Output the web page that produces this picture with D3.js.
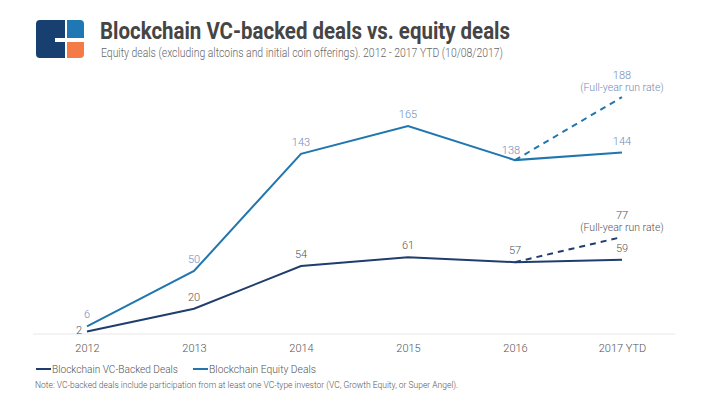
<!DOCTYPE html>
<html>
<head>
<meta charset="utf-8">
<script src="https://cdn.jsdelivr.net/npm/d3@7"></script>
<style>
  body { margin: 0; background: #fff; }
  svg { display: block; font-family: Roboto, "Noto Sans", sans-serif; }
</style>
</head>
<body>
<div id="chart"></div>
<script>
const years = ['2012', '2013', '2014', '2015', '2016', '2017 YTD'];
const vcDeals = [2, 20, 54, 61, 57, 59];
const equityDeals = [6, 50, 143, 165, 138, 144];
const vcRunRate = 77;
const equityRunRate = 188;
const seriesNames = ['Blockchain VC-Backed Deals', 'Blockchain Equity Deals'];

const W = 717, H = 397;
const vcColor = '#1f3d6d';
const eqColor = '#2176ae';

const svg = d3.select('#chart').append('svg')
  .attr('width', W)
  .attr('height', H);

// logo
const logo = svg.append('g').attr('transform', 'translate(36,20)');
logo.append('path')
  .attr('d', 'M4,0 H29 V18 H19 V22 H29 V38 H4 Q0,38 0,34 V4 Q0,0 4,0 Z')
  .attr('fill', '#173f6f');
logo.append('path')
  .attr('d', 'M31,0 H44 Q48,0 48,4 V18 H31 Z')
  .attr('fill', '#1f78b4');
logo.append('path')
  .attr('d', 'M31,22 H48 V34 Q48,38 44,38 H31 Z')
  .attr('fill', '#f47b45');

svg.append('text')
  .attr('x', 100).attr('y', 39)
  .attr('font-size', 24)
  .attr('font-weight', 700)
  .attr('fill', '#454545')
  .attr('textLength', 410)
  .attr('lengthAdjust', 'spacingAndGlyphs')
  .text('Blockchain VC-backed deals vs. equity deals');

svg.append('text')
  .attr('x', 101).attr('y', 57)
  .attr('font-size', 12)
  .attr('font-weight', 300)
  .attr('fill', '#666')
  .attr('textLength', 402)
  .attr('lengthAdjust', 'spacingAndGlyphs')
  .text('Equity deals (excluding altcoins and initial coin offerings). 2012 - 2017 YTD (10/08/2017)');

const x = d3.scalePoint()
  .domain(years)
  .range([87, 622]);
const y = d3.scaleLinear()
  .domain([0, 200])
  .range([334, 82]);

// baseline axis
svg.append('line')
  .attr('x1', 33).attr('x2', 675)
  .attr('y1', y(0)).attr('y2', y(0))
  .attr('stroke', '#e8e8e8');

const xAxis = svg.append('g')
  .attr('transform', `translate(0,${y(0)})`)
  .call(d3.axisBottom(x).tickSize(0).tickPadding(10));
xAxis.select('.domain').remove();
xAxis.selectAll('text')
  .attr('font-family', 'Roboto, sans-serif')
  .attr('font-size', 11)
  .attr('font-weight', 300)
  .attr('fill', '#555');

const line = d3.line()
  .x((d, i) => x(years[i]))
  .y(d => y(d));

svg.append('path')
  .datum(equityDeals)
  .attr('d', line)
  .attr('fill', 'none')
  .attr('stroke', eqColor)
  .attr('stroke-width', 2);

svg.append('path')
  .datum(vcDeals)
  .attr('d', line)
  .attr('fill', 'none')
  .attr('stroke', vcColor)
  .attr('stroke-width', 2);

// run rate dashes from 2016
const last = years.length - 1;
svg.append('line')
  .attr('x1', x(years[last - 1])).attr('y1', y(equityDeals[last - 1]))
  .attr('x2', x(years[last])).attr('y2', y(equityRunRate))
  .attr('stroke', eqColor).attr('stroke-width', 2)
  .attr('stroke-dasharray', '6,5');
svg.append('line')
  .attr('x1', x(years[last - 1])).attr('y1', y(vcDeals[last - 1]))
  .attr('x2', x(years[last])).attr('y2', y(vcRunRate))
  .attr('stroke', vcColor).attr('stroke-width', 2)
  .attr('stroke-dasharray', '6,5');

// value labels
const eqLabel = '#6f8bb8';
const vcLabel = '#555';
const labelOffsets = { eq: [[0, -8], [0, -8], [0, -8], [0, -8], [-4, -6], [0, -8]],
                       vc: [[-8, 3], [0, -8], [0, -8], [0, -8], [0, -8], [0, -8]] };

svg.append('g').selectAll('text')
  .data(equityDeals)
  .join('text')
  .attr('x', (d, i) => x(years[i]) + labelOffsets.eq[i][0])
  .attr('y', (d, i) => y(d) + labelOffsets.eq[i][1])
  .attr('text-anchor', 'middle')
  .attr('font-size', 11)
  .attr('font-weight', 300)
  .attr('fill', eqLabel)
  .text(d => d);

svg.append('g').selectAll('text')
  .data(vcDeals)
  .join('text')
  .attr('x', (d, i) => x(years[i]) + labelOffsets.vc[i][0])
  .attr('y', (d, i) => y(d) + labelOffsets.vc[i][1])
  .attr('text-anchor', 'middle')
  .attr('font-size', 11)
  .attr('font-weight', 300)
  .attr('fill', vcLabel)
  .text(d => d);

function runRateLabel(value, color) {
  const t = svg.append('text')
    .attr('x', x(years[last]))
    .attr('y', y(value) - 18)
    .attr('text-anchor', 'middle')
    .attr('font-size', 10.5)
    .attr('font-weight', 300)
    .attr('fill', color);
  t.append('tspan').attr('x', x(years[last])).attr('font-size', 11).text(value);
  t.append('tspan').attr('x', x(years[last])).attr('dy', 12).text('(Full-year run rate)');
}
runRateLabel(equityRunRate, eqLabel);
runRateLabel(vcRunRate, vcLabel);

// legend
const legend = svg.append('g').attr('transform', 'translate(36,369)');
const legendX = [0, 157];
const legendLen = [126, 107];
[vcColor, eqColor].forEach((c, i) => {
  legend.append('line')
    .attr('x1', legendX[i]).attr('x2', legendX[i] + 15)
    .attr('y1', 0).attr('y2', 0)
    .attr('stroke', c).attr('stroke-width', 2);
  legend.append('text')
    .attr('x', legendX[i] + 16).attr('y', 4)
    .attr('font-size', 11.5)
    .attr('font-weight', 300)
    .attr('fill', '#555')
    .attr('textLength', legendLen[i])
    .attr('lengthAdjust', 'spacingAndGlyphs')
    .text(seriesNames[i]);
});

svg.append('text')
  .attr('x', 35).attr('y', 388)
  .attr('font-size', 8.5)
  .attr('font-weight', 300)
  .attr('fill', '#555')
  .text('Note: VC-backed deals include participation from at least one VC-type investor (VC, Growth Equity, or Super Angel).');
</script>
</body>
</html>
